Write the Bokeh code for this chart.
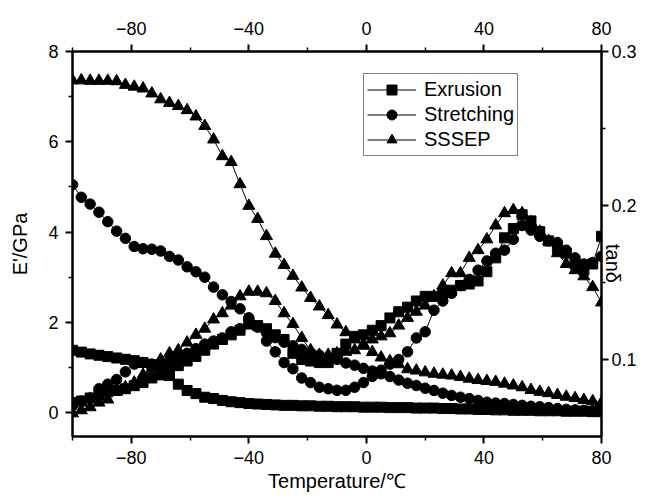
import math
from bokeh.plotting import figure
from bokeh.models import Range1d, LinearAxis, FixedTicker, Legend, LegendItem
from bokeh.embed import file_html
from bokeh.resources import INLINE

# ---------------- data ----------------
temperature = [-100, -97, -94, -91, -88, -85, -82, -79, -76, -73,
               -70, -67, -64, -61, -58, -55, -52, -49, -46, -43,
               -40, -37, -34, -31, -28, -25, -22, -19, -16, -13,
               -10, -7, -4, -1, 2, 5, 8, 11, 14, 17,
               20, 23, 26, 29, 32, 35, 38, 41, 44, 47,
               50, 53, 56, 59, 62, 65, 68, 71, 74, 77, 80]

exrusion_E = [1.38, 1.34, 1.30, 1.27, 1.24, 1.21, 1.18, 1.15, 1.11, 1.06,
              1.00, 0.82, 0.63, 0.49, 0.42, 0.34, 0.31, 0.27, 0.24, 0.22,
              0.20, 0.19, 0.18, 0.17, 0.16, 0.16, 0.15, 0.15, 0.14, 0.14,
              0.13, 0.13, 0.13, 0.12, 0.12, 0.12, 0.11, 0.11, 0.11, 0.10,
              0.10, 0.10, 0.09, 0.09, 0.08, 0.08, 0.07, 0.07, 0.06, 0.06,
              0.05, 0.05, 0.05, 0.04, 0.04, 0.04, 0.03, 0.03, 0.03, 0.02, 0.02]

stretching_E = [5.05, 4.77, 4.62, 4.44, 4.23, 4.02, 3.86, 3.68, 3.63, 3.62,
                3.58, 3.46, 3.38, 3.23, 3.12, 3.00, 2.78, 2.61, 2.46, 2.30,
                2.10, 1.92, 1.77, 1.66, 1.56, 1.48, 1.40, 1.33, 1.27, 1.22,
                1.18, 1.10, 1.05, 0.98, 0.92, 0.86, 0.80, 0.72, 0.65, 0.60,
                0.54, 0.49, 0.43, 0.38, 0.34, 0.31, 0.27, 0.23, 0.21, 0.20,
                0.18, 0.16, 0.14, 0.13, 0.11, 0.09, 0.07, 0.06, 0.05, 0.04, 0.03]

sssep_E = [7.36, 7.36, 7.35, 7.35, 7.35, 7.34, 7.26, 7.22, 7.18, 7.07,
           6.94, 6.86, 6.79, 6.70, 6.56, 6.35, 6.05, 5.68, 5.55, 5.06,
           4.58, 4.29, 3.91, 3.52, 3.27, 3.03, 2.77, 2.54, 2.35, 2.16,
           1.95, 1.78, 1.62, 1.48, 1.34, 1.22, 1.14, 1.07, 0.96, 0.93,
           0.89, 0.86, 0.84, 0.82, 0.79, 0.75, 0.72, 0.70, 0.68, 0.64,
           0.60, 0.56, 0.50, 0.46, 0.43, 0.39, 0.35, 0.32, 0.28, 0.25, 0.22]

exrusion_tan = [0.072, 0.073, 0.075, 0.077, 0.079, 0.080, 0.081, 0.083, 0.085, 0.088,
                0.090, 0.093, 0.096, 0.099, 0.102, 0.106, 0.110, 0.113, 0.116, 0.119,
                0.123, 0.122, 0.120, 0.116, 0.113, 0.104, 0.100, 0.099, 0.098, 0.098,
                0.104, 0.110, 0.115, 0.116, 0.119, 0.122, 0.127, 0.131, 0.134, 0.138,
                0.141, 0.141, 0.143, 0.145, 0.148, 0.149, 0.151, 0.157, 0.166, 0.179,
                0.185, 0.194, 0.190, 0.183, 0.177, 0.172, 0.169, 0.162, 0.158, 0.162, 0.180]

stretching_tan = [0.070, 0.073, 0.075, 0.081, 0.084, 0.087, 0.092, 0.097, 0.098, 0.097,
                  0.096, 0.099, 0.101, 0.104, 0.107, 0.110, 0.112, 0.114, 0.118, 0.120,
                  0.126, 0.121, 0.112, 0.105, 0.098, 0.094, 0.088, 0.085, 0.082, 0.081,
                  0.080, 0.080, 0.082, 0.085, 0.089, 0.093, 0.097, 0.100, 0.105, 0.114,
                  0.118, 0.132, 0.138, 0.143, 0.148, 0.152, 0.158, 0.164, 0.169, 0.171,
                  0.178, 0.187, 0.184, 0.180, 0.177, 0.176, 0.171, 0.166, 0.162, 0.163, 0.167]

sssep_tan = [0.065, 0.067, 0.069, 0.072, 0.074, 0.079, 0.082, 0.085, 0.090, 0.094,
             0.100, 0.104, 0.106, 0.111, 0.116, 0.120, 0.126, 0.130, 0.135, 0.141,
             0.144, 0.144, 0.143, 0.138, 0.130, 0.123, 0.114, 0.106, 0.103, 0.103,
             0.104, 0.105, 0.106, 0.110, 0.113, 0.115, 0.117, 0.122, 0.127, 0.131,
             0.135, 0.141, 0.148, 0.156, 0.156, 0.166, 0.171, 0.178, 0.187, 0.195,
             0.197, 0.195, 0.189, 0.183, 0.177, 0.169, 0.162, 0.158, 0.154, 0.147, 0.137]

series_names = ["Exrusion", "Stretching", "SSSEP"]
x_major = [-80, -40, 0, 40, 80]
x_minor = [-100, -60, -20, 20, 60]
x_tick_labels = {-80: "\u221280", -40: "\u221240", 0: "0", 40: "40", 80: "80"}
E_major = [0, 2, 4, 6, 8]
E_minor = [1, 3, 5, 7]
tan_major = [0.1, 0.2, 0.3]
tan_minor = [0.15, 0.25]

FONT = "Liberation Sans"

p = figure(width=637, height=494, output_backend="svg", toolbar_location=None,
           x_range=Range1d(-100, 80), y_range=Range1d(-0.53, 8),
           min_border_left=72, min_border_right=36, min_border_top=51,
           min_border_bottom=54)
p.extra_y_ranges = {"tan": Range1d(0.05, 0.3)}
p.xgrid.visible = False
p.ygrid.visible = False
p.outline_line_color = "black"
p.outline_line_width = 2
p.background_fill_color = "white"
p.border_fill_color = "white"

bottom = p.below[0]
left = p.left[0]
top = LinearAxis()
p.add_layout(top, "above")
right = LinearAxis(y_range_name="tan")
p.add_layout(right, "right")


def style(ax, standoff):
    ax.axis_line_width = 2
    ax.axis_line_color = "black"
    ax.major_tick_line_width = 2
    ax.major_tick_line_color = "black"
    ax.major_tick_in = 0
    ax.major_tick_out = 7
    ax.minor_tick_line_width = 1.5
    ax.minor_tick_line_color = "black"
    ax.minor_tick_in = 0
    ax.minor_tick_out = 4
    ax.major_label_text_font = FONT
    ax.major_label_text_font_size = "18px"
    ax.major_label_text_color = "black"
    ax.major_label_standoff = standoff


def label_style(ax, text, standoff):
    ax.axis_label = text
    ax.axis_label_text_font = FONT
    ax.axis_label_text_font_size = "20px"
    ax.axis_label_text_font_style = "normal"
    ax.axis_label_text_color = "black"
    ax.axis_label_standoff = standoff


style(bottom, 7)
style(top, 10)
for ax in (bottom, top):
    ax.ticker = FixedTicker(ticks=x_major, minor_ticks=x_minor)
    ax.major_label_overrides = x_tick_labels
style(left, 7)
left.ticker = FixedTicker(ticks=E_major, minor_ticks=E_minor)
style(right, 3)
right.ticker = FixedTicker(ticks=tan_major, minor_ticks=tan_minor)

label_style(left, "E'/GPa", 14)
label_style(bottom, "Temperature/\u2103", 3)
label_style(right, "tan\u03b4", -27)
if "axis_label_orientation" in LinearAxis.properties():
    right.axis_label_orientation = -math.pi / 2

markers = [("square", 10), ("circle", 10.5), ("triangle", 12)]
E_sets = [exrusion_E, stretching_E, sssep_E]
tan_sets = [exrusion_tan, stretching_tan, sssep_tan]

items = []
for name, E, t, (mk, sz) in zip(series_names, E_sets, tan_sets, markers):
    l1 = p.line(temperature, E, line_color="black", line_width=1)
    s1 = p.scatter(temperature, E, marker=mk, size=sz,
                   fill_color="black", line_color="black")
    p.line(temperature, t, line_color="black", line_width=1, y_range_name="tan")
    p.scatter(temperature, t, marker=mk, size=sz, fill_color="black",
              line_color="black", y_range_name="tan")
    items.append(LegendItem(label=name, renderers=[l1, s1]))

legend = Legend(items=items, location=(291, 280))
legend.label_text_font = FONT
legend.label_text_font_size = "20px"
legend.label_text_color = "black"
legend.glyph_width = 49
legend.glyph_height = 25
legend.label_height = 25
legend.label_standoff = 8
legend.spacing = 0
legend.padding = 3
legend.margin = 0
legend.border_line_color = "black"
legend.border_line_width = 1.5
legend.background_fill_color = "white"
legend.background_fill_alpha = 1
p.add_layout(legend)

open("out.html", "w").write(file_html(p, INLINE))
